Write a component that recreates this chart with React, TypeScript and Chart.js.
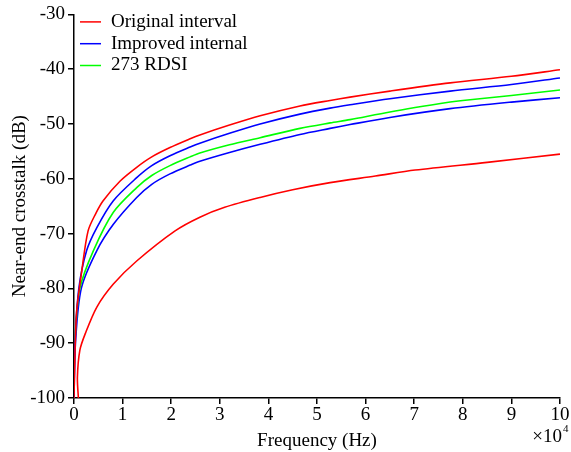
import React, { useEffect, useRef } from "react";
import { Chart, registerables } from "chart.js";

Chart.register(...registerables);

// Frequency in units of 1e4 Hz
const origUpperX = [0.0, 0.02, 0.055, 0.16, 0.29, 0.45, 0.6, 0.95, 1.29, 1.6, 1.975, 2.39, 2.59, 3.2, 3.83, 4.65, 5.27, 5.68, 6.5, 7.74, 9.0, 10];
const origUpperY = [-100, -92, -84.1, -76.8, -69.5, -66.3, -64.0, -60.4, -57.9, -56.0, -54.3, -52.7, -52.0, -50.2, -48.5, -46.7, -45.7, -45.1, -44.0, -42.5, -41.3, -40.1];

const improvedUpperX = [0.0, 0.02, 0.1, 0.26, 0.47, 0.81, 1.29, 1.6, 1.975, 2.39, 2.59, 3.2, 3.83, 4.65, 5.27, 5.68, 6.5, 7.74, 9.0, 10];
const improvedUpperY = [-100, -90, -80, -73.1, -68.9, -64.0, -59.8, -57.6, -55.8, -54.2, -53.5, -51.7, -50.0, -48.2, -47.1, -46.5, -45.4, -44.0, -42.8, -41.6];

const rdsiX = [0.0, 0.03, 0.12, 0.4, 0.81, 1.29, 1.6, 1.975, 2.39, 2.59, 3.2, 3.83, 4.65, 5.27, 5.68, 6.5, 7.74, 8.0, 9.0, 10];
const rdsiY = [-92, -88, -80, -73.1, -66.1, -61.6, -59.4, -57.6, -56.0, -55.3, -53.8, -52.5, -50.8, -49.8, -49.2, -47.8, -46.0, -45.7, -44.8, -43.8];

const improvedLowerX = [0.0, 0.03, 0.15, 0.47, 0.81, 1.29, 1.6, 1.975, 2.39, 2.59, 3.2, 3.83, 4.65, 5.27, 5.68, 6.5, 7.74, 9.0, 10];
const improvedLowerY = [-100, -90, -80, -73.1, -68.3, -63.4, -61.0, -59.1, -57.5, -56.8, -55.2, -53.7, -51.9, -50.8, -50.1, -48.8, -47.2, -46.0, -45.2];

const origLowerX = [0.09, 0.07, 0.12, 0.23, 0.47, 0.81, 1.29, 2.08, 2.59, 3.1, 3.83, 4.5, 5.27, 6.2, 7.02, 8.5, 10];
const origLowerY = [-100, -96.2, -91.3, -88.3, -83.4, -79.2, -75.0, -69.5, -67.0, -65.2, -63.4, -62.0, -60.7, -59.5, -58.4, -57.0, -55.5];

const xTicks = [0, 1, 2, 3, 4, 5, 6, 7, 8, 9, 10];
const yTicks = [-100, -90, -80, -70, -60, -50, -40, -30];

const legendLabels = ["Original interval", "Improved internal", "273 RDSI"];
const seriesColors = ["#ff0000", "#0000ff", "#00ff00"];

const FONT = "'Liberation Serif', 'Times New Roman', serif";
const FS = 19;

const zip = (xs: number[], ys: number[]) => xs.map((x, i) => ({ x, y: ys[i] }));

export default function App() {
  const ref = useRef<HTMLCanvasElement | null>(null);

  useEffect(() => {
    if (!ref.current) return;

    const legendPlugin = {
      id: "insideLegend",
      afterDraw(chart: any) {
        const ctx = chart.ctx;
        const area = chart.chartArea;
        ctx.save();
        ctx.font = `${FS}px ${FONT}`;
        ctx.textBaseline = "middle";
        ctx.textAlign = "left";
        legendLabels.forEach((lab, i) => {
          const y = area.top + 7.5 + i * 21.8;
          ctx.strokeStyle = seriesColors[i];
          ctx.lineWidth = 1.5;
          ctx.beginPath();
          ctx.moveTo(area.left + 6, y);
          ctx.lineTo(area.left + 27, y);
          ctx.stroke();
          ctx.fillStyle = "#000";
          ctx.fillText(lab, area.left + 37, y);
        });
        // x10^4 multiplier
        ctx.textBaseline = "alphabetic";
        ctx.textAlign = "right";
        ctx.font = `${FS}px ${FONT}`;
        const xr = area.right + 2;
        ctx.fillText("\u00d710", xr, 442);
        ctx.font = `11px ${FONT}`;
        ctx.textAlign = "left";
        ctx.fillText("4", xr + 1, 432);
        ctx.restore();
      },
    };

    const ds = (label: string, xs: number[], ys: number[], color: string) => ({
      label,
      data: zip(xs, ys),
      borderColor: color,
      backgroundColor: color,
      borderWidth: 1.6,
      pointRadius: 0,
      tension: 0.3,
      fill: false,
    });

    const chart = new Chart(ref.current, {
      type: "line",
      data: {
        datasets: [
          ds(legendLabels[0], origUpperX, origUpperY, seriesColors[0]),
          ds(legendLabels[1], improvedUpperX, improvedUpperY, seriesColors[1]),
          ds(legendLabels[2], rdsiX, rdsiY, seriesColors[2]),
          ds("", improvedLowerX, improvedLowerY, seriesColors[1]),
          ds("", origLowerX, origLowerY, seriesColors[0]),
        ],
      },
      options: {
        animation: false,
        responsive: true,
        maintainAspectRatio: false,
        layout: { padding: { top: 13, right: 11, left: 0, bottom: 0 } },
        plugins: { legend: { display: false }, tooltip: { enabled: false } },
        scales: {
          x: {
            type: "linear",
            min: 0,
            max: 10,
            afterBuildTicks: (s: any) => {
              s.ticks = xTicks.map((v) => ({ value: v }));
            },
            afterFit: (s: any) => {
              s.height = 54;
            },
            ticks: {
              color: "#000",
              font: { family: FONT, size: FS },
              padding: 0,
              maxRotation: 0,
              callback: (v: any) => String(v),
            },
            grid: {
              drawOnChartArea: false,
              tickLength: 6,
              color: "#000",
              lineWidth: 1.5,
            },
            border: { color: "#000", width: 1.5 },
            title: {
              display: true,
              text: "Frequency (Hz)",
              color: "#000",
              font: { family: FONT, size: FS },
              padding: { top: 4, bottom: 0 },
            },
          },
          y: {
            type: "linear",
            min: -100,
            max: -30,
            afterBuildTicks: (s: any) => {
              s.ticks = yTicks.map((v) => ({ value: v }));
            },
            afterFit: (s: any) => {
              s.width = 74;
            },
            ticks: {
              color: "#000",
              font: { family: FONT, size: FS },
              padding: 3,
              callback: (v: any) => String(v),
            },
            grid: {
              drawOnChartArea: false,
              tickLength: 6,
              color: "#000",
              lineWidth: 1.5,
            },
            border: { color: "#000", width: 1.5 },
            title: {
              display: true,
              text: "Near-end crosstalk (dB)",
              color: "#000",
              font: { family: FONT, size: FS },
              padding: { top: 9, bottom: 0 },
            },
          },
        },
      },
      plugins: [legendPlugin],
    });

    return () => chart.destroy();
  }, []);

  return (
    <div style={{ position: "absolute", left: 0, top: 0, width: 571, height: 452 }}>
      <canvas ref={ref} />
    </div>
  );
}
